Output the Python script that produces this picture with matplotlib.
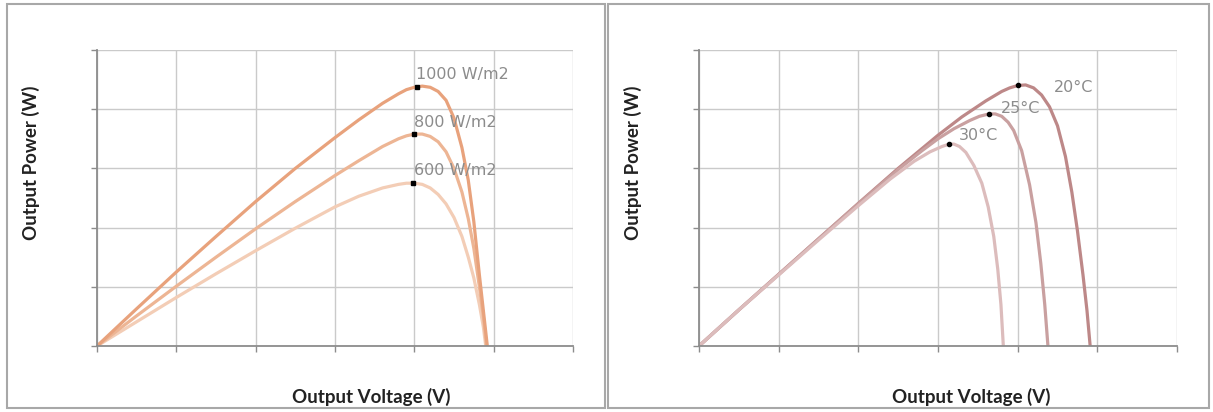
import matplotlib.pyplot as plt
from matplotlib.patches import Rectangle

# Левый график: освещённость
v_1000 = [0, 0.5, 1.0, 1.5, 2.0, 2.5, 3.0, 3.3, 3.6, 3.8, 3.9, 4.0, 4.1, 4.2, 4.3, 4.4, 4.5, 4.6, 4.68, 4.75, 4.82, 4.87, 4.92]
p_1000 = [0, 0.63, 1.25, 1.85, 2.44, 3.0, 3.52, 3.82, 4.1, 4.26, 4.33, 4.37, 4.39, 4.37, 4.3, 4.15, 3.85, 3.35, 2.8, 2.1, 1.2, 0.6, 0]
v_800 = [0, 0.5, 1.0, 1.5, 2.0, 2.5, 3.0, 3.3, 3.6, 3.8, 3.9, 4.0, 4.1, 4.2, 4.3, 4.4, 4.5, 4.6, 4.68, 4.75, 4.82, 4.87, 4.91]
p_800 = [0, 0.51, 1.01, 1.5, 1.98, 2.44, 2.88, 3.13, 3.37, 3.5, 3.55, 3.58, 3.58, 3.54, 3.45, 3.28, 3.0, 2.6, 2.15, 1.65, 1.0, 0.5, 0]
v_600 = [0, 0.5, 1.0, 1.5, 2.0, 2.5, 3.0, 3.3, 3.6, 3.8, 3.9, 4.0, 4.1, 4.2, 4.3, 4.4, 4.5, 4.6, 4.68, 4.75, 4.82, 4.87, 4.9]
p_600 = [0, 0.41, 0.82, 1.22, 1.61, 1.99, 2.35, 2.53, 2.67, 2.73, 2.75, 2.75, 2.73, 2.67, 2.56, 2.4, 2.17, 1.85, 1.5, 1.15, 0.7, 0.32, 0]
irr_labels = ['1000 W/m2', '800 W/m2', '600 W/m2']
irr_mpp_v = [4.03, 4.0, 3.98]
irr_mpp_p = [4.37, 3.58, 2.75]
irr_label_pos = [(4.02, 4.58), (3.99, 3.77), (3.99, 2.97)]

# Правый график: температура
v_20 = [0, 0.5, 1.0, 1.5, 2.0, 2.5, 3.0, 3.3, 3.6, 3.8, 3.9, 4.0, 4.1, 4.2, 4.3, 4.4, 4.5, 4.6, 4.68, 4.75, 4.82, 4.87, 4.91]
p_20 = [0, 0.61, 1.21, 1.81, 2.41, 3.0, 3.56, 3.87, 4.14, 4.3, 4.36, 4.4, 4.41, 4.36, 4.24, 4.04, 3.72, 3.2, 2.6, 1.95, 1.2, 0.6, 0]
v_25 = [0, 0.5, 1.0, 1.5, 2.0, 2.5, 2.8, 3.0, 3.2, 3.4, 3.52, 3.64, 3.72, 3.8, 3.88, 3.95, 4.05, 4.15, 4.23, 4.29, 4.34, 4.38]
p_25 = [0, 0.61, 1.21, 1.81, 2.4, 2.98, 3.3, 3.5, 3.67, 3.81, 3.88, 3.92, 3.92, 3.88, 3.78, 3.64, 3.3, 2.72, 2.08, 1.4, 0.7, 0]
v_30 = [0, 0.5, 1.0, 1.5, 2.0, 2.4, 2.7, 2.9, 3.05, 3.14, 3.2, 3.27, 3.35, 3.45, 3.55, 3.63, 3.7, 3.75, 3.79, 3.82]
p_30 = [0, 0.61, 1.2, 1.79, 2.37, 2.82, 3.12, 3.28, 3.37, 3.41, 3.41, 3.37, 3.27, 3.05, 2.75, 2.35, 1.85, 1.3, 0.7, 0]
temp_labels = ['20°C', '25°C', '30°C']
temp_mpp_v = [4.01, 3.64, 3.14]
temp_mpp_p = [4.41, 3.92, 3.41]
temp_label_pos = [(4.45, 4.36), (3.79, 4.02), (3.26, 3.55)]

W, H = 1213, 412
fig = plt.figure(figsize=(W / 100, H / 100), dpi=100)
fig.patch.set_facecolor('white')

# рамки панелей
fig.patches.append(Rectangle((7 / W, 4 / H), 598 / W, 404 / H, transform=fig.transFigure,
                             fill=False, edgecolor='#a8a8a8', lw=1.5))
fig.patches.append(Rectangle((608 / W, 4 / H), 601 / W, 404 / H, transform=fig.transFigure,
                             fill=False, edgecolor='#a8a8a8', lw=1.5))

label_font = dict(family='Lato', fontweight='bold', fontsize=13.5, color='#222222')


def setup(ax, xlab_x, ylab_x):
    ax.set_xlim(0, 6)
    ax.set_ylim(0, 5)
    ax.set_xticks(range(7))
    ax.set_yticks(range(6))
    ax.set_xticklabels([])
    ax.set_yticklabels([])
    ax.grid(True, color='#cacaca', lw=1)
    ax.set_axisbelow(True)
    for s in ['top', 'right']:
        ax.spines[s].set_visible(False)
    for s in ['left', 'bottom']:
        ax.spines[s].set_color('#8c8c8c')
        ax.spines[s].set_linewidth(1.3)
    ax.tick_params(length=4, color='#8c8c8c', width=1)
    fig.text(xlab_x / W, 1 - 397 / H, 'Output Voltage (V)', ha='center', va='center', **label_font)
    fig.text(ylab_x / W, 1 - 163 / H, 'Output Power (W)', ha='center', va='center',
             rotation=90, **label_font)


ax1 = fig.add_axes([97 / W, (H - 346) / H, 476 / W, 296 / H])
setup(ax1, 371, 31)
ax1.plot(v_600, p_600, color='#f3cdb6', lw=2.3)
ax1.plot(v_800, p_800, color='#edb594', lw=2.3)
ax1.plot(v_1000, p_1000, color='#e8a27c', lw=2.3)
ax1.plot(irr_mpp_v, irr_mpp_p, 's', color='black', ms=2.5, ls='none')
for lab, (x, y) in zip(irr_labels, irr_label_pos):
    ax1.text(x, y, lab, color='#8c8c8c', fontsize=11.5, va='center', ha='left')

ax2 = fig.add_axes([699 / W, (H - 346) / H, 478 / W, 296 / H])
setup(ax2, 971, 633)
ax2.plot(v_20, p_20, color='#bd8888', lw=2.3)
ax2.plot(v_25, p_25, color='#c9a0a0', lw=2.3)
ax2.plot(v_30, p_30, color='#dcbcbc', lw=2.3)
ax2.plot(temp_mpp_v, temp_mpp_p, 'o', color='black', ms=3, ls='none')
for lab, (x, y) in zip(temp_labels, temp_label_pos):
    ax2.text(x, y, lab, color='#8c8c8c', fontsize=11.5, va='center', ha='left')

plt.savefig('out.png', dpi=100)
